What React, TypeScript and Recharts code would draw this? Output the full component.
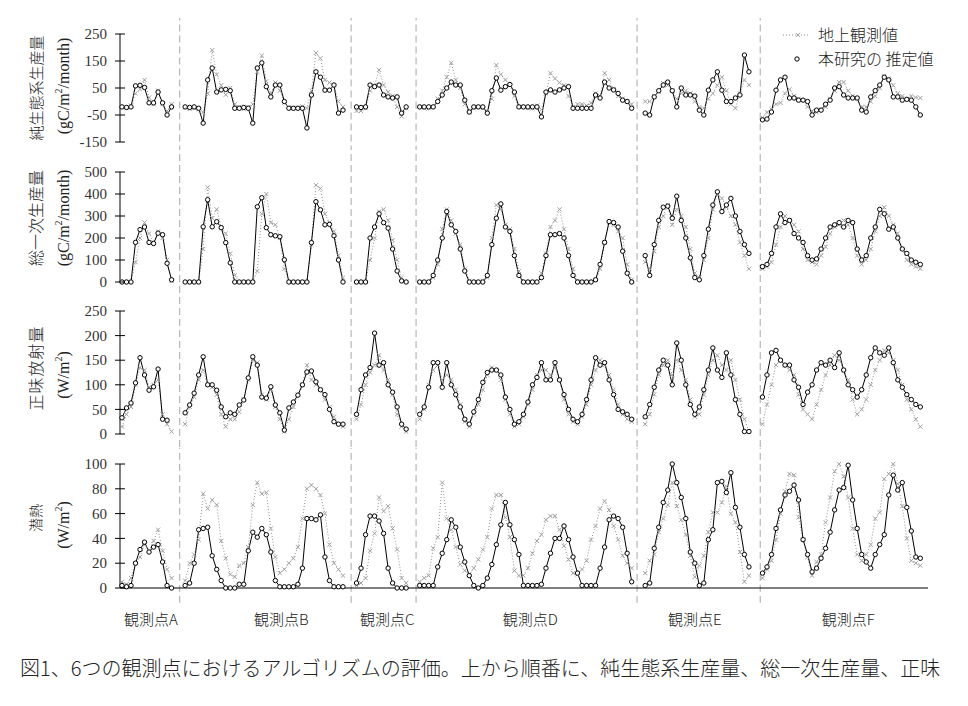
import React from 'react';
import { LineChart, Line, XAxis, YAxis, ReferenceLine } from 'recharts';

type V = number | null;

// ---- layout of categories (monthly slots) ----
const siteNames = ['観測点A', '観測点B', '観測点C', '観測点D', '観測点E', '観測点F'];
const siteStart = [0, 14, 52, 66, 116, 142];
const separators = [12.8, 50.8, 65.2, 114.2, 141.5];
const siteLabelPos = [6.4, 35.3, 58.8, 90.5, 127, 161];
const TOTAL = 178;
const X_DOMAIN: [number, number] = [-0.44, 178.7];
const xTicks = Array.from({ length: 179 }, (_, i) => i);

// ---- Panel 1: 純生態系生産量 (NEP) ----
const nepObsA: V[] = [-20, -25, -15, 30, 45, 80, 15, -10, 40, -10, -35, -10];
const nepEstA: V[] = [-20, -22, -20, 58, 60, 52, -5, -5, 35, -5, -50, -20];
const nepObsB: V[] = [-22, -28, -25, -30, -40, 30, 190, 100, 60, 25, 50, -10, -20, -28, -20, -10, 110, 170, 75, 30, 70, 40, -5, -20, -25, -22, -18, -25, 40, 180, 160, 80, 70, 60, 0, -20];
const nepEstB: V[] = [-20, -22, -20, -25, -80, 80, 124, 35, 43, 45, 40, -25, -25, -22, -25, -80, 124, 143, 55, 17, 61, 61, 0, -25, -25, -25, -25, -98, 24, 110, 90, 42, 42, 61, -43, -32];
const nepObsC: V[] = [-35, -35, -25, 40, 60, 117, 61, 35, 20, -20, -55, -25];
const nepEstC: V[] = [-20, -22, -20, 61, 55, 61, 24, 17, 13, 17, -43, -20];
const nepObsD: V[] = [-20, -25, -25, -20, 10, 40, 90, 143, 80, 50, -10, -40, -25, -20, -25, -35, 10, 135, 100, 80, 60, 20, -20, -20, -25, -25, -15, -30, 30, 105, 85, 70, 60, 20, -20, -10, -10, -15, -5, 30, 20, 105, 80, 45, 20, 10, 0, -10];
const nepEstD: V[] = [-20, -20, -20, -20, 0, 24, 50, 72, 61, 61, 5, -39, -20, -20, -20, -43, 40, 87, 42, 55, 63, 35, -20, -20, -20, -20, -20, -57, 35, 43, 35, 43, 50, 55, -25, -25, -25, -25, -25, 24, 13, 72, 50, 43, 30, 5, 0, -25];
const nepObsE: V[] = [0, 0, 20, 35, 68, 60, 40, 10, 30, 40, 30, 0, -20, -25, 10, 30, 60, 90, 40, -10, -25, 30, 80, 61];
const nepEstE: V[] = [-43, -50, 17, 40, 61, 72, 40, -20, 50, 24, 24, 20, -32, -50, 42, 80, 110, 42, 0, 0, 13, 24, 172, 110];
const nepObsF: V[] = [-60, -40, -30, -10, -5, 30, 45, 20, 10, 5, -20, -35, -40, -30, -20, 10, 40, 72, 72, 40, 20, 10, -20, -20, 0, 20, 50, 95, 85, 60, 30, 20, 10, 20, 15, 13];
const nepEstF: V[] = [-68, -65, -39, 42, 80, 90, 13, 13, 5, 5, 0, -50, -32, -32, -10, 5, 50, 55, 24, 13, 13, 13, -32, -39, 17, 40, 61, 90, 80, 17, 17, 5, 8, 5, -20, -50];

// ---- Panel 2: 総一次生産量 (GPP) ----
const gppObsA: V[] = [0, 0, 0, 90, 200, 270, 220, 180, 230, 200, 100, 5];
const gppEstA: V[] = [0, 0, 0, 180, 238, 250, 180, 175, 222, 215, 85, 10];
const gppObsB: V[] = [0, 0, 0, 0, 150, 430, 290, 330, 250, 220, 130, 30, 0, 0, 0, 0, 50, 310, 400, 270, 260, 200, 60, 0, 0, 0, 0, 0, 170, 440, 425, 310, 270, 230, 120, 20];
const gppEstB: V[] = [0, 0, 0, 0, 251, 374, 251, 274, 247, 179, 87, 0, 0, 0, 0, 0, 342, 383, 247, 215, 210, 206, 101, 0, 0, 0, 0, 0, 179, 365, 328, 260, 262, 210, 100, 0];
const gppObsC: V[] = [0, 0, 0, 100, 200, 320, 330, 280, 190, 100, 20, 0];
const gppEstC: V[] = [0, 0, 0, 200, 250, 310, 270, 245, 150, 50, 5, 0];
const gppObsD: V[] = [0, 0, 0, 20, 80, 240, 330, 280, 220, 170, 60, 5, 0, 0, 5, 20, 200, 350, 330, 260, 240, 150, 50, 0, 0, 0, 0, 40, 130, 250, 280, 330, 240, 150, 60, 5, 0, 0, 0, 10, 60, 180, 270, 260, 230, 200, 80, 10];
const gppEstD: V[] = [0, 0, 0, 30, 100, 200, 320, 260, 230, 150, 50, 0, 0, 0, 0, 30, 170, 290, 355, 250, 230, 120, 30, 0, 0, 0, 0, 20, 120, 215, 215, 220, 200, 120, 30, 0, 0, 0, 0, 10, 80, 180, 275, 270, 250, 140, 40, 0];
const gppObsE: V[] = [90, 60, 140, 250, 300, 350, 260, 330, 300, 250, 150, 40, 20, 100, 200, 330, 400, 380, 340, 300, 260, 180, 120, 60];
const gppEstE: V[] = [120, 30, 170, 280, 340, 345, 290, 390, 280, 200, 110, 20, 10, 120, 240, 350, 410, 320, 350, 380, 300, 230, 170, 130];
const gppObsF: V[] = [60, 70, 90, 170, 250, 300, 280, 260, 230, 150, 100, 90, 80, 120, 160, 220, 250, 260, 280, 260, 200, 120, 80, 100, 150, 230, 300, 340, 300, 260, 220, 150, 100, 80, 70, 60];
const gppEstF: V[] = [70, 80, 130, 250, 310, 270, 280, 220, 200, 180, 120, 100, 105, 150, 200, 250, 260, 270, 250, 280, 270, 150, 100, 120, 200, 250, 330, 310, 240, 250, 200, 150, 130, 100, 90, 80];

// ---- Panel 3: 正味放射量 (net radiation) ----
const nrObsA: V[] = [15, 40, 55, 100, 135, 130, 95, 100, 110, 40, 20, 5];
const nrEstA: V[] = [33, 53, 63, 104, 155, 120, 89, 96, 132, 30, 28, null];
const nrObsB: V[] = [20, 55, 75, 110, 130, 100, 95, 80, 40, 15, 30, 30, 45, 70, 110, 150, 145, 80, 70, 90, 55, 30, 5, 30, 55, 80, 100, 140, 110, 100, 90, 70, 55, 35, 20, 15];
const nrEstB: V[] = [43, 59, 83, 120, 157, 100, 100, 89, 55, 35, 43, 40, 59, 69, 114, 157, 140, 75, 73, 96, 59, 43, 8, 53, 65, 79, 100, 126, 128, 106, 90, 80, 50, 25, 20, 20];
const nrObsC: V[] = [30, 60, 100, 125, 140, 160, 130, 110, 80, 40, 15, 5];
const nrEstC: V[] = [40, 90, 120, 135, 205, 140, 145, 100, 85, 55, 20, 10];
const nrObsD: V[] = [30, 50, 100, 130, 140, 110, 120, 110, 90, 60, 25, 15, 40, 60, 90, 120, 135, 130, 110, 70, 40, 15, 20, 35, 60, 90, 120, 130, 130, 120, 135, 110, 70, 40, 25, 20, 35, 60, 100, 130, 150, 140, 120, 90, 60, 40, 30, 25];
const nrEstD: V[] = [40, 55, 95, 145, 145, 95, 145, 100, 80, 55, 30, 20, 45, 70, 105, 125, 130, 130, 120, 75, 50, 20, 25, 40, 65, 100, 115, 145, 110, 110, 145, 110, 80, 50, 30, 25, 40, 70, 110, 155, 140, 145, 110, 80, 50, 45, 40, 30];
const nrObsE: V[] = [20, 40, 80, 120, 140, 150, 120, 150, 130, 110, 70, 35, 40, 80, 120, 150, 160, 140, 130, 150, 110, 70, 30, 5];
const nrEstE: V[] = [35, 60, 95, 130, 150, 140, 100, 185, 150, 100, 60, 40, 55, 90, 130, 175, 130, 115, 165, 120, 70, 40, 5, 5];
const nrObsF: V[] = [20, 60, 100, 140, 150, 140, 130, 120, 80, 50, 40, 30, 60, 90, 120, 140, 160, 150, 130, 110, 70, 40, 50, 70, 100, 130, 150, 170, 165, 150, 130, 100, 70, 50, 30, 15];
const nrEstF: V[] = [75, 120, 165, 170, 150, 140, 140, 110, 95, 60, 85, 100, 130, 145, 140, 150, 135, 165, 130, 100, 90, 75, 90, 120, 155, 175, 165, 160, 175, 145, 110, 95, 80, 70, 60, 55];

// ---- Panel 4: 潜熱 (latent heat) ----
const leObsA: V[] = [5, 3, 8, 20, 25, 35, 30, 38, 47, 30, 15, 8];
const leEstA: V[] = [2, 1, 2, 20, 31, 37, 29, 33, 35, 21, 2, 0];
const leObsB: V[] = [6, 20, 27, 39, 76, 64, 71, 67, 38, 24, 11, 9, 18, 20, 33, 67, 85, 76, 77, 48, 25, 12, 15, 20, 24, 33, 56, 80, 83, 80, 75, 60, 35, 20, 15, 10];
const leEstB: V[] = [2, 4, 20, 47, 48, 49, 26, 15, 6, 0, 0, 0, 3, 3, 30, 45, 41, 48, 43, 29, 6, 1, 1, 1, 1, 3, 16, 56, 56, 55, 59, 25, 6, 1, 1, 1];
const leObsC: V[] = [2, 4, 8, 30, 44, 73, 62, 66, 48, 31, 8, 4];
const leEstC: V[] = [4, 16, 43, 58, 58, 54, 44, 16, 4, 0, 0, 0];
const leObsD: V[] = [5, 8, 10, 32, 41, 85, 56, 47, 33, 19, 14, 11, 16, 23, 31, 41, 64, 75, 75, 57, 41, 14, 10, 10, 16, 28, 38, 43, 55, 58, 58, 47, 34, 23, 12, 11, 15, 22, 39, 50, 64, 70, 63, 50, 39, 26, 20, 16];
const leEstD: V[] = [2, 2, 2, 2, 17, 28, 39, 55, 49, 33, 21, 10, 2, 0, 2, 8, 19, 35, 51, 69, 51, 39, 27, 2, 2, 2, 2, 3, 16, 28, 40, 40, 50, 39, 25, 12, 2, 2, 2, 2, 16, 33, 55, 58, 56, 49, 28, 5];
const leObsE: V[] = [12, 22, 27, 45, 56, 67, 85, 66, 55, 43, 26, 9, 18, 26, 45, 61, 61, 69, 82, 60, 53, 29, 5, 10];
const leEstE: V[] = [2, 4, 32, 49, 69, 79, 100, 85, 73, 56, 29, 20, 2, 4, 39, 47, 85, 86, 77, 93, 65, 49, 27, 17];
const leObsF: V[] = [8, 15, 22, 39, 60, 78, 92, 91, 57, 39, 25, 10, 21, 27, 53, 73, 94, 100, 90, 73, 48, 27, 22, 27, 35, 56, 61, 88, 92, 100, 84, 66, 40, 22, 20, 18];
const leEstF: V[] = [12, 17, 27, 48, 63, 75, 78, 83, 71, 39, 27, 13, 16, 24, 32, 45, 63, 79, 81, 99, 71, 48, 27, 21, 16, 27, 35, 43, 75, 91, 79, 85, 65, 46, 25, 24];

const nepTicks = [-150, -50, 50, 150, 250];
const gppTicks = [0, 100, 200, 300, 400, 500];
const nrTicks = [0, 50, 100, 150, 200, 250];
const leTicks = [0, 20, 40, 60, 80, 100];

function buildRows(obs: V[][], est: V[][]) {
  const rows = Array.from({ length: TOTAL }, (_, i) => ({ x: i, obs: null as V, est: null as V }));
  siteStart.forEach((s, k) => {
    obs[k].forEach((v, j) => { rows[s + j].obs = v; });
    est[k].forEach((v, j) => { rows[s + j].est = v; });
  });
  return rows;
}

const nepRows = buildRows([nepObsA, nepObsB, nepObsC, nepObsD, nepObsE, nepObsF], [nepEstA, nepEstB, nepEstC, nepEstD, nepEstE, nepEstF]);
const gppRows = buildRows([gppObsA, gppObsB, gppObsC, gppObsD, gppObsE, gppObsF], [gppEstA, gppEstB, gppEstC, gppEstD, gppEstE, gppEstF]);
const nrRows = buildRows([nrObsA, nrObsB, nrObsC, nrObsD, nrObsE, nrObsF], [nrEstA, nrEstB, nrEstC, nrEstD, nrEstE, nrEstF]);
const leRows = buildRows([leObsA, leObsB, leObsC, leObsD, leObsE, leObsF], [leEstA, leEstB, leEstC, leEstD, leEstE, leEstF]);

const SERIF = '"Liberation Serif", "DejaVu Serif", serif';
const CJK = '"Noto Sans CJK JP", "Noto Sans", sans-serif';

const YTick = (props: any) => {
  const { x, y, payload } = props;
  return (
    <g>
      <line x1={x - 5} x2={x + 5} y1={y} y2={y} stroke="#000" strokeWidth={1} />
      <text x={x - 13} y={y} dy="0.35em" textAnchor="end" fontFamily={SERIF} fontSize={15} fill="#333">
        {payload.value}
      </text>
    </g>
  );
};

const SiteTick = (props: any) => {
  const { x, y, index } = props;
  return (
    <text x={x} y={y + 20} dy="0.35em" textAnchor="middle" fontFamily={CJK} fontWeight={300} fontSize={15} fill="#222">
      {siteNames[index]}
    </text>
  );
};

const XDot = (props: any) => {
  const { cx, cy, index, value } = props;
  if (cx == null || cy == null || value == null || (Array.isArray(value) && value[1] == null)) return <g key={`o${index}`} />;
  const s = 2.1;
  return (
    <path key={`o${index}`} d={`M${cx - s},${cy - s}L${cx + s},${cy + s}M${cx - s},${cy + s}L${cx + s},${cy - s}`} stroke="#a0a0a0" strokeWidth={1} fill="none" />
  );
};

type PanelProps = {
  rows: any[];
  top: number;
  height: number;
  mt: number;
  mb: number;
  domain: [number, number];
  ticks: number[];
  bottom?: boolean;
  sepLow: number;
};

function Panel({ rows, top, height, mt, mb, domain, ticks, bottom, sepLow }: PanelProps) {
  return (
    <div style={{ position: 'absolute', left: 0, top, width: 968, height }}>
      <LineChart width={968} height={height} data={rows} margin={{ top: mt, right: 40, bottom: mb, left: 0 }}>
        <XAxis
          type="number"
          dataKey="x"
          domain={X_DOMAIN}
          ticks={xTicks}
          interval={0}
          hide={!bottom}
          tick={false}
          tickSize={7}
          height={12}
          axisLine={{ stroke: '#000', strokeWidth: 1 }}
          tickLine={{ stroke: '#000', strokeWidth: 1 }}
        />
        {bottom && (
          <XAxis
            xAxisId="lab"
            type="number"
            dataKey="x"
            domain={X_DOMAIN}
            ticks={siteLabelPos}
            interval={0}
            tickSize={0}
            tickMargin={0}
            height={40}
            axisLine={false}
            tickLine={false}
            tick={<SiteTick />}
          />
        )}
        <YAxis
          type="number"
          domain={domain}
          ticks={ticks}
          interval={0}
          width={120}
          tickSize={0}
          tickMargin={0}
          tickLine={false}
          axisLine={{ stroke: '#000', strokeWidth: 1 }}
          tick={<YTick />}
        />
        {separators.map((s) => (
          <ReferenceLine
            key={s}
            segment={[{ x: s, y: sepLow }, { x: s, y: 3000 }]}
            ifOverflow="visible"
            stroke="#a8a8a8"
            strokeWidth={1}
            strokeDasharray="7 4"
          />
        ))}
        <Line
          type="linear"
          dataKey="obs"
          stroke="#909090"
          strokeWidth={1}
          strokeDasharray="1 2"
          dot={<XDot />}
          activeDot={false}
          isAnimationActive={false}
          connectNulls={false}
        />
        <Line
          type="linear"
          dataKey="est"
          stroke="#000"
          strokeWidth={1}
          dot={{ r: 2.2, stroke: '#000', strokeWidth: 1, fill: '#fff' }}
          activeDot={false}
          isAnimationActive={false}
          connectNulls={false}
        />
      </LineChart>
    </div>
  );
}

const titleStyle = (cx: number, cy: number, font: string, size: number, spacing = 0, weight = 400): React.CSSProperties => ({
  position: 'absolute',
  left: cx,
  top: cy,
  transform: 'translate(-50%, -50%) rotate(-90deg)',
  whiteSpace: 'nowrap',
  fontFamily: font,
  fontSize: size,
  fontWeight: weight,
  letterSpacing: spacing,
  color: '#222',
  lineHeight: 1,
});

export default function App() {
  return (
    <div style={{ position: 'absolute', left: 0, top: 0, width: 968, height: 706, background: '#fff', overflow: 'hidden' }}>
      <Panel rows={nepRows} top={18} height={132} mt={16} mb={8} domain={[-150, 250]} ticks={nepTicks} sepLow={-3000} />
      <Panel rows={gppRows} top={150} height={146} mt={22} mb={14} domain={[0, 500]} ticks={gppTicks} sepLow={-3000} />
      <Panel rows={nrRows} top={296} height={152} mt={15} mb={14} domain={[0, 250]} ticks={nrTicks} sepLow={-3000} />
      <Panel rows={leRows} top={448} height={192} mt={16} mb={0} domain={[0, 100]} ticks={leTicks} bottom sepLow={-12} />

      {/* axis titles */}
      <div style={titleStyle(35, 88, CJK, 15, 0, 300)}>純生態系生産量</div>
      <div style={titleStyle(63, 86, SERIF, 16)}>(gC/m<sup style={{ fontSize: 10 }}>2</sup>/month)</div>
      <div style={titleStyle(35, 218, CJK, 16, 0, 300)}>総一次生産量</div>
      <div style={titleStyle(63, 218, SERIF, 16)}>(gC/m<sup style={{ fontSize: 10 }}>2</sup>/month)</div>
      <div style={titleStyle(35, 368, CJK, 16, 1, 300)}>正味放射量</div>
      <div style={titleStyle(63, 375, SERIF, 16)}>(W/m<sup style={{ fontSize: 10 }}>2</sup>)</div>
      <div style={titleStyle(35, 518, CJK, 14, 0, 300)}>潜熱</div>
      <div style={titleStyle(63, 525, SERIF, 16)}>(W/m<sup style={{ fontSize: 10 }}>2</sup>)</div>

      {/* legend */}
      <svg style={{ position: 'absolute', left: 775, top: 20 }} width={180} height={55}>
        <line x1={8} x2={35} y1={15} y2={15} stroke="#909090" strokeDasharray="1 2" />
        <path d="M20.9,12.9L25.1,17.1M20.9,17.1L25.1,12.9" stroke="#a0a0a0" strokeWidth={1} fill="none" />
        <text x={43} y={15} dy="0.35em" fontFamily={CJK} fontWeight={300} fontSize={16} fill="#222">地上観測値</text>
        <circle cx={22} cy={39} r={2.2} stroke="#000" strokeWidth={1} fill="#fff" />
        <text x={43} y={39} dy="0.35em" fontFamily={CJK} fontWeight={300} fontSize={16} fill="#222">本研究の 推定値</text>
      </svg>

      {/* caption */}
      <div style={{ position: 'absolute', left: 20, top: 656, fontFamily: CJK, fontWeight: 300, fontSize: 20, lineHeight: '24px', color: '#222', whiteSpace: 'nowrap' }}>
        図1、6つの観測点におけるアルゴリズムの評価。上から順番に、純生態系生産量、総一次生産量、正味
      </div>
    </div>
  );
}
